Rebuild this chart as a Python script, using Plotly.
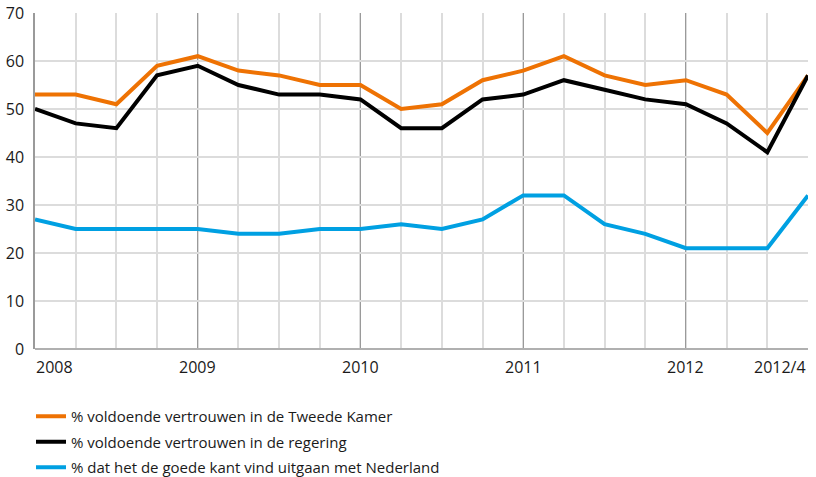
import plotly.graph_objects as go

quarters = list(range(20))
year_labels = ["2008", "2009", "2010", "2011", "2012", "2012/4"]
year_positions = [0, 4, 8, 12, 16, 19]

tweede_kamer = [53, 53, 51, 59, 61, 58, 57, 55, 55, 50, 51, 56, 58, 61, 57, 55, 56, 53, 45, 57]
regering = [50, 47, 46, 57, 59, 55, 53, 53, 52, 46, 46, 52, 53, 56, 54, 52, 51, 47, 41, 57]
goede_kant = [27, 25, 25, 25, 25, 24, 24, 25, 25, 26, 25, 27, 32, 32, 26, 24, 21, 21, 21, 32]

names = [
    "% voldoende vertrouwen in de Tweede Kamer",
    "% voldoende vertrouwen in de regering",
    "% dat het de goede kant vind uitgaan met Nederland",
]
colors = ["#EE7203", "#000000", "#00A0E2"]
series = [tweede_kamer, regering, goede_kant]

FONT = "Open Sans"
TXT = "#1a1a1a"

fig = go.Figure()
for i, (nm, col, vals) in enumerate(zip(names, colors, series)):
    fig.add_trace(go.Scatter(
        x=quarters, y=vals, mode="lines", name=nm,
        line=dict(color=col, width=4), legendgroup=str(i),
        hoverinfo="skip", cliponaxis=False,
    ))

annotations = []
for lab, pos in zip(year_labels, year_positions):
    if pos == 0:
        anchor = "left"
    elif pos == 19:
        anchor = "right"
    else:
        anchor = "center"
    annotations.append(dict(
        x=pos, y=0, xref="x", yref="paper", text=lab, showarrow=False,
        xanchor=anchor, yanchor="top", yshift=-5, xshift=(-1 if pos == 0 else 0),
        font=dict(family=FONT, size=16, color=TXT),
    ))

fig.update_layout(
    width=816, height=477,
    margin=dict(l=35, r=8, t=13, b=128, autoexpand=False),
    paper_bgcolor="white", plot_bgcolor="white",
    font=dict(family=FONT, size=15, color=TXT),
    showlegend=True,
    legend=dict(
        orientation="v", xref="container", yref="container",
        x=31 / 816, xanchor="left", y=1 - 400 / 477, yanchor="top",
        traceorder="grouped", tracegroupgap=3,
        font=dict(family=FONT, size=15, color=TXT),
        bgcolor="rgba(0,0,0,0)",
    ),
    annotations=annotations,
    xaxis=dict(
        range=[0, 19], tickvals=[4, 8, 12, 16], showticklabels=False,
        showgrid=True, gridcolor="#9a9a9a", gridwidth=1,
        minor=dict(dtick=1, tick0=0, showgrid=True, gridcolor="#dcdcdc", gridwidth=1.5),
        zeroline=False, showline=False, ticks="", automargin=False,
        fixedrange=True,
    ),
    yaxis=dict(
        range=[0, 70], dtick=10, tick0=0,
        showgrid=True, gridcolor="#dcdcdc", gridwidth=1.5,
        zeroline=True, zerolinecolor="#b0b0b0", zerolinewidth=1.5,
        showline=True, linecolor="#9a9a9a", linewidth=1.5,
        ticks="", ticklabelstandoff=6, automargin=False,
        tickfont=dict(family=FONT, size=16, color=TXT),
        fixedrange=True,
    ),
)

fig.write_html(
    "out.html",
    config={"displayModeBar": False},
    post_script="document.body.style.margin='0';document.body.style.overflow='hidden';",
)
